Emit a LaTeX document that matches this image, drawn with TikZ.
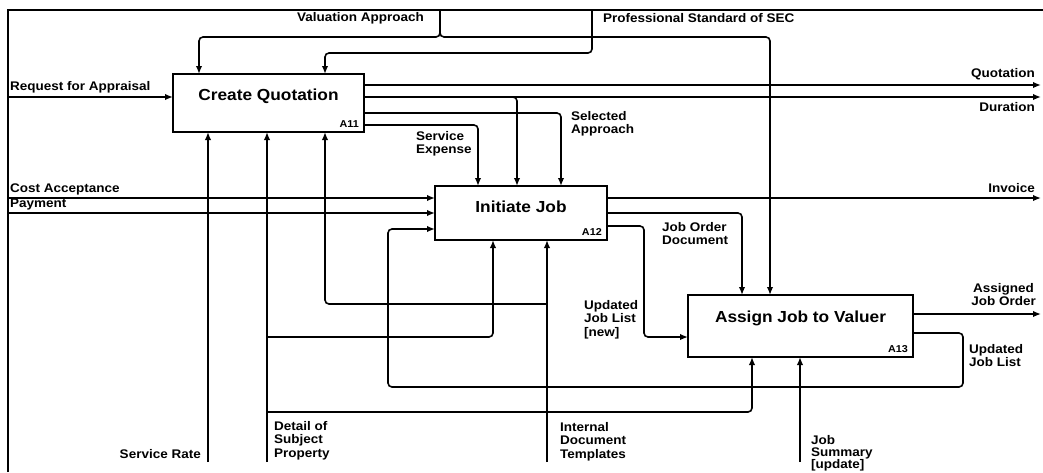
\documentclass[tikz,border=0pt]{standalone}
\usepackage{fontspec}
\setmainfont{Liberation Sans}[FakeStretch=1.08]
\usetikzlibrary{arrows.meta}
\begin{document}
\begin{tikzpicture}[x=1pt,y=-1pt,
  flow/.style={line width=1.6pt, rounded corners=4pt, -{Latex[length=8pt,width=6.5pt]}},
  frameline/.style={line width=1.8pt},
  actbox/.style={draw, line width=2.4pt, inner sep=0pt, outer sep=0pt, fill=white},
  title/.style={font=\fontsize{16}{18}\selectfont\bfseries, inner sep=0pt},
  boxid/.style={font=\fontsize{10}{12}\selectfont\bfseries, anchor=south east, inner sep=0pt},
  lab/.style={font=\fontsize{12.5}{13.5}\selectfont\bfseries, inner sep=0pt, align=left},
]
\useasboundingbox (0,0) rectangle (1043,472);

% diagram frame
\coordinate (fbl) at (8,472);
\coordinate (ftl) at (8,10);
\coordinate (ftr) at (1043,10);
\draw[frameline] (fbl) -- (ftl) -- (ftr);

% activity boxes
\node[actbox, minimum width=191pt, minimum height=58pt] (a11) at (268.5,103) {};
\node[actbox, minimum width=172pt, minimum height=54pt] (a12) at (521,213) {};
\node[actbox, minimum width=225pt, minimum height=62pt] (a13) at (800.5,326) {};

\node[title] (t11) at ([yshift=7pt]a11.center) {Create Quotation};
\node[title] (t12) at ([yshift=6pt]a12.center) {Initiate Job};
\node[title] (t13) at ([yshift=8pt]a13.center) {Assign Job to Valuer};

\node[boxid] (n11) at ([xshift=-5pt,yshift=4pt]a11.south east) {A11};
\node[boxid] (n12) at ([xshift=-5pt,yshift=4pt]a12.south east) {A12};
\node[boxid] (n13) at ([xshift=-5pt,yshift=4pt]a13.south east) {A13};

% external inputs from the left
\coordinate (rfa) at (8,97);
\coordinate (cac) at (8,198);
\coordinate (pay) at (8,213);
\draw[flow] (rfa) -- (rfa -| a11.west);
\draw[flow] (cac) -- (cac -| a12.west);
\draw[flow] (pay) -- (pay -| a12.west);
\node[lab, anchor=south west] (lrfa) at (10,93) {Request for Appraisal};
\node[lab, anchor=south west] (lcac) at (10,195) {Cost Acceptance};
\node[lab, anchor=south west] (lpay) at (10,210) {Payment};

% controls from the top
\coordinate (vatop) at (440,10);
\coordinate (va1) at (199,37);
\coordinate (va2) at (770,37);
\draw[flow] (vatop) |- (va1) -- (va1 |- a11.north);
\draw[flow] (vatop) |- (va2) -- (va2 |- a13.north);
\node[lab, anchor=east] (lva) at (424,18) {Valuation Approach};

\coordinate (pstop) at (592,10);
\coordinate (ps1) at (325,53);
\draw[flow] (pstop) |- (ps1) -- (ps1 |- a11.north);
\node[lab, anchor=west] (lps) at (603,18) {Professional Standard of SEC};

% outputs of A11
\coordinate (quo) at (1041,85);
\coordinate (dur) at (1041,97);
\coordinate (durj) at (517,97);
\draw[flow] (quo -| a11.east) -- (quo);
\draw[flow] (dur -| a11.east) -- (dur);
\draw[flow] (dur -| a11.east) -- (durj) -- (durj |- a12.north);
\node[lab, anchor=south east] (lquo) at (1035,80) {Quotation};
\node[lab, anchor=north east] (ldur) at (1035,102) {Duration};

\coordinate (sap) at (561,113);
\draw[flow] (sap -| a11.east) -- (sap) -- (sap |- a12.north);
\node[lab, anchor=north west] (lsap) at (571,111) {Selected\\Approach};

\coordinate (sex) at (478,125);
\draw[flow] (sex -| a11.east) -- (sex) -- (sex |- a12.north);
\node[lab, anchor=north west] (lsex) at (416,131) {Service\\Expense};

% mechanisms and inputs from the bottom
\coordinate (srbot) at (208,462);
\draw[flow] (srbot) -- (srbot |- a11.south);
\node[lab, anchor=base east] (lsr) at (201,458) {Service Rate};

\coordinate (dsbot) at (267,462);
\coordinate (ds1) at (267,337);
\coordinate (ij1) at (493,337);
\coordinate (ds2) at (267,412);
\coordinate (aj1) at (752,412);
\draw[flow] (dsbot) -- (dsbot |- a11.south);
\draw[flow] (ds1) -- (ij1) -- (ij1 |- a12.south);
\draw[flow] (ds2) -- (aj1) -- (aj1 |- a13.south);
\node[lab, anchor=north west] (lds) at (274,421) {Detail of\\Subject\\Property};

\coordinate (idbot) at (547,462);
\coordinate (id1) at (547,304);
\coordinate (cq3) at (325,304);
\draw[flow] (idbot) -- (idbot |- a12.south);
\draw[flow] (id1) -- (cq3) -- (cq3 |- a11.south);
\node[lab, anchor=north west] (lid) at (560,422) {Internal\\Document\\Templates};

\coordinate (jsbot) at (800,462);
\draw[flow] (jsbot) -- (jsbot |- a13.south);
\node[lab, anchor=north west, font=\fontsize{12.5}{12}\selectfont\bfseries] (ljs) at (811,435) {Job\\Summary\\{[update]}};

% outputs of A12
\coordinate (inv) at (1041,198);
\draw[flow] (inv -| a12.east) -- (inv);
\node[lab, anchor=south east] (linv) at (1035,193) {Invoice};

\coordinate (jod) at (742,213);
\draw[flow] (jod -| a12.east) -- (jod) -- (jod |- a13.north);
\node[lab, anchor=north west] (ljod) at (662,222) {Job Order\\Document};

\coordinate (uj1) at (644,226);
\coordinate (uj2) at (644,337);
\draw[flow] (uj1 -| a12.east) -- (uj1) -- (uj2) -- (uj2 -| a13.west);
\node[lab, anchor=north west] (lujn) at (584,300) {Updated\\Job List\\{[new]}};

% outputs of A13
\coordinate (ajo) at (1041,314);
\draw[flow] (ajo -| a13.east) -- (ajo);
\node[lab, anchor=south east, align=center] (lajo) at (1036,306) {Assigned\\Job Order};

\coordinate (fb1) at (963,333);
\coordinate (fb2) at (963,387);
\coordinate (fb3) at (388,387);
\coordinate (fb4) at (388,229);
\draw[flow] (fb1 -| a13.east) -- (fb1) -- (fb2) -- (fb3) -- (fb4) -- (fb4 -| a12.west);
\node[lab, anchor=north west] (lfb) at (969,344) {Updated\\Job List};
\end{tikzpicture}
\end{document}
